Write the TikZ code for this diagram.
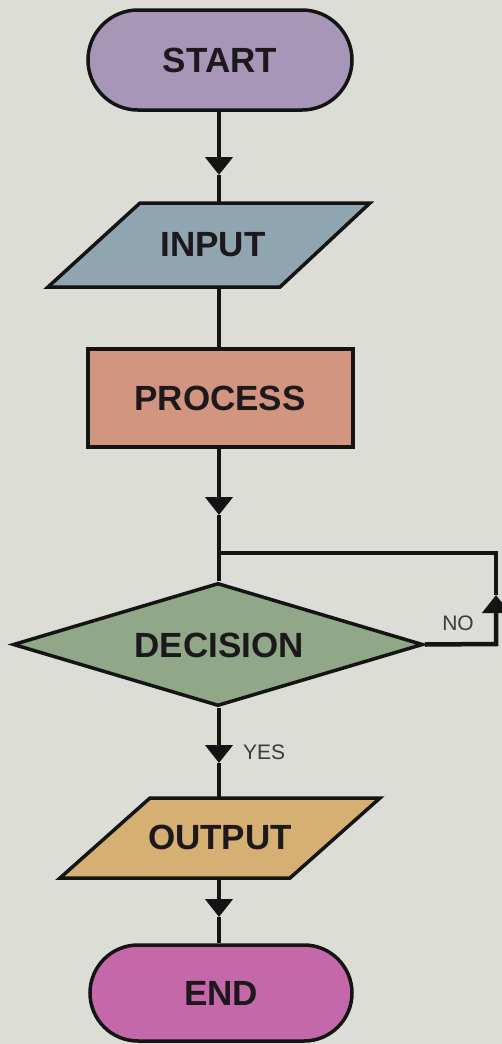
\documentclass[tikz,border=0pt]{standalone}
\usepackage{fontspec}
\setmainfont{Liberation Sans}
\usetikzlibrary{shapes.misc,shapes.geometric,arrows.meta}
\definecolor{bg}{HTML}{DCDDD7}
\definecolor{startc}{HTML}{A896B9}
\definecolor{inputc}{HTML}{8FA5AF}
\definecolor{processc}{HTML}{D29680}
\definecolor{decisionc}{HTML}{90A888}
\definecolor{outputc}{HTML}{D6AF73}
\definecolor{endc}{HTML}{C468AA}
\definecolor{ink}{HTML}{141414}
\definecolor{txt}{HTML}{1C181C}
\definecolor{lbl}{HTML}{3A3A3A}
\tikzset{
  shapeline/.style={draw=ink, line width=3.5pt, line join=miter},
  terminal/.style={shapeline, rounded rectangle, minimum width=264pt, minimum height=100pt, inner sep=0pt},
  label/.style={font=\fontsize{35}{40}\selectfont\bfseries, text=txt, inner sep=0pt},
  smalllbl/.style={font=\fontsize{21}{24}\selectfont, text=lbl, inner sep=0pt},
  conn/.style={draw=ink, line width=4.5pt},
  arr/.style={conn, -{Triangle[width=27pt,length=18pt]}},
}
\begin{document}
\begin{tikzpicture}[x=1pt,y=1pt]
\fill[bg] (0,0) rectangle (502,-1044);
\useasboundingbox (0,0) rectangle (502,-1044);

% START
\node[terminal, fill=startc] (start) at (220,-60) {};
\node[label] (starttxt) at (220,-60) {START};

% INPUT parallelogram
\coordinate (inTop) at (219,-203);
\coordinate (inBot) at (219,-287);
\filldraw[shapeline, fill=inputc] (140,-203) -- (370,-203) -- (280,-287) -- (48,-287) -- cycle;
\node[label] (input) at (213,-245) {INPUT};

% PROCESS
\node[shapeline, fill=processc, minimum width=265pt, minimum height=98pt, inner sep=0pt] (process) at (220.5,-398) {};
\node[label] (processtxt) at (220,-398) {PROCESS};

% DECISION
\node[shapeline, fill=decisionc, diamond, aspect=3.3, minimum width=410pt, minimum height=123pt, inner sep=0pt] (decision) at (218,-644.5) {};
\node[label] (decisiontxt) at (219,-645) {DECISION};

% OUTPUT parallelogram
\coordinate (outTop) at (219,-798);
\coordinate (outBot) at (219,-878);
\filldraw[shapeline, fill=outputc] (150,-798) -- (380,-798) -- (290,-878) -- (60,-878) -- cycle;
\node[label] (output) at (220,-837) {OUTPUT};

% END
\node[terminal, fill=endc, minimum width=262pt, minimum height=96pt] (end) at (221,-993) {};
\node[label] (endtxt) at (221,-993) {END};

% connectors
\coordinate (t1) at (219,-175);
\draw[arr] (start.south -| inTop) -- (t1);
\draw[conn] (t1) -- (inTop);

\draw[conn] (inBot) -- (process.north -| inBot);

\coordinate (t2) at (219,-515);
\coordinate (junc) at (219,-553);
\draw[arr] (process.south -| inBot) -- (t2);
\draw[conn] (t2) -- (decision.north -| t2);

\coordinate (loopA) at (496,-644);
\coordinate (t3) at (496,-595);
\coordinate (loopB) at (496,-553);
\draw[arr] (decision.east) -- (loopA) -- (t3);
\draw[conn, line join=miter] (t3) -- (loopB) -- (junc);
\node[smalllbl] (no) at (458,-623) {NO};

\coordinate (t4) at (219,-763);
\draw[arr] (decision.south -| t4) -- (t4);
\draw[conn] (t4) -- (outTop);
\node[smalllbl, anchor=west] (yes) at (243,-752) {YES};

\coordinate (t5) at (219,-917);
\draw[arr] (outBot) -- (t5);
\draw[conn] (t5) -- (end.north -| t5);
\end{tikzpicture}
\end{document}
